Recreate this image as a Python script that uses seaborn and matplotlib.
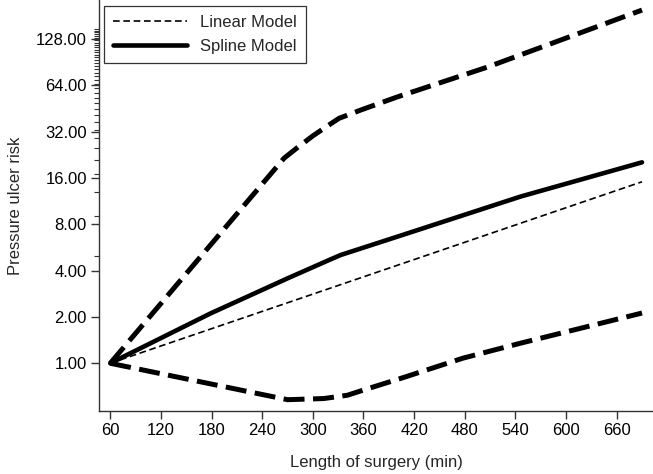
import numpy as np
import pandas as pd
import seaborn as sns
import matplotlib
matplotlib.use("Agg")
from matplotlib import pyplot as plt
from matplotlib.ticker import FixedLocator, FuncFormatter

# Values
linear_x = [60, 690]
linear_risk = [1.0, 15.1]

spline_x = [60, 179, 227, 270, 321, 333, 400, 546, 690]
spline_risk = [1.0, 2.11, 2.78, 3.56, 4.73, 5.05, 6.64, 12.1, 20.2]

upper_x = [60, 266, 283, 300, 318, 331, 357, 400, 507, 690]
upper_risk = [1.0, 21.5, 25.5, 30.0, 35.0, 39.0, 44.2, 53.7, 84.0, 197.0]

lower_x = [60, 270, 313, 341, 360, 408, 478, 546, 690]
lower_risk = [1.0, 0.58, 0.59, 0.62, 0.67, 0.81, 1.08, 1.35, 2.12]

y_ticks = [1, 2, 4, 8, 16, 32, 64, 128]
x_ticks = list(range(60, 661, 60))

sns.set_style("ticks")
plt.rcParams["font.family"] = ["Liberation Sans", "DejaVu Sans"]
fs = 12

fig = plt.figure(figsize=(6.53, 4.74), dpi=100)
ax = fig.add_axes([0.152, 0.133, 0.848, 0.867])

band_dash = (4.2, 1.7)
sns.lineplot(x=upper_x, y=upper_risk, ax=ax, color="black", lw=3.6,
             estimator=None)
sns.lineplot(x=lower_x, y=lower_risk, ax=ax, color="black", lw=3.6,
             estimator=None)
for line in ax.lines:
    line.set_dashes(band_dash)
    line.set_dash_capstyle("butt")

sns.lineplot(x=linear_x, y=linear_risk, ax=ax, color="black", lw=1.2,
             estimator=None, label="Linear Model")
ax.lines[-1].set_dashes((4, 2.2))
sns.lineplot(x=spline_x, y=spline_risk, ax=ax, color="black", lw=3.3,
             estimator=None, label="Spline Model")

ax.set_yscale("log", base=2)
ax.set_ylim(0.49, 229)
ax.set_xlim(47, 703)
ax.set_yticks(y_ticks)
ax.yaxis.set_major_formatter(FuncFormatter(lambda v, p: f"{v:.2f}"))
ax.yaxis.set_minor_locator(FixedLocator(np.arange(5, 153, 4)))
ax.yaxis.set_minor_formatter(FuncFormatter(lambda v, p: ""))
ax.set_xticks(x_ticks)

ax.tick_params(axis="both", which="major", length=6, width=1, color="#333333",
               labelsize=fs, labelcolor="black", pad=3)
ax.tick_params(axis="y", which="minor", length=3.5, width=0.8, color="#333333")
for side in ["top", "right"]:
    ax.spines[side].set_visible(False)
for side in ["left", "bottom"]:
    ax.spines[side].set_color("#333333")
    ax.spines[side].set_linewidth(1)

ax.set_xlabel("Length of surgery (min)", fontsize=fs, labelpad=12)
ax.set_ylabel("Pressure ulcer risk", fontsize=fs, labelpad=9)

leg = ax.legend(loc="upper left", bbox_to_anchor=(0.009, 0.985), borderaxespad=0,
                frameon=True, fancybox=False, fontsize=fs, handlelength=4.4,
                handletextpad=0.8, borderpad=0.55, labelspacing=0.5)
leg.get_frame().set_edgecolor("black")
leg.get_frame().set_linewidth(0.9)

plt.savefig("out.png", dpi=100)
